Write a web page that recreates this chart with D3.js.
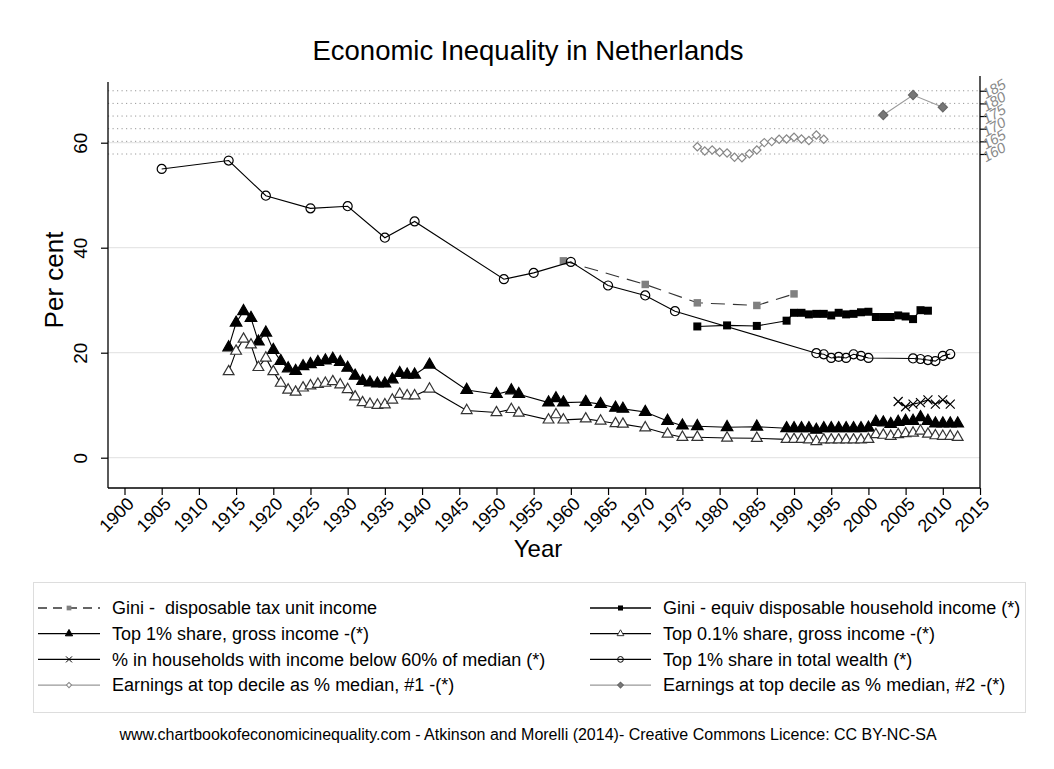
<!DOCTYPE html>
<html>
<head>
<meta charset="utf-8">
<script src="https://cdn.jsdelivr.net/npm/d3@7"></script>
<style>
	html, body { margin: 0; padding: 0; background: #fff; }
	svg { display: block; font-family: "Liberation Sans", Arial, sans-serif; }
	svg text { white-space: pre; }
</style>
</head>
<body>
<svg id="chart" width="1054" height="769"></svg>
<script>

const gini_tax_years = [1959, 1970, 1977, 1985, 1990];
const gini_tax_values = [37.5, 33.0, 29.5, 29.0, 31.2];

const gini_equiv_years = [1977, 1981, 1985, 1989, 1990, 1991, 1992, 1993, 1994, 1995, 1996, 1997, 1998, 1999,
	2000, 2001, 2002, 2003, 2004, 2005, 2006, 2007, 2008];
const gini_equiv_values = [25.0, 25.2, 25.1, 26.1, 27.6, 27.6, 27.3, 27.4, 27.4, 27.1, 27.6, 27.3, 27.4, 27.7,
	27.8, 26.8, 26.8, 26.8, 27.1, 26.9, 26.4, 28.1, 28.0];

const top_years = [1914, 1915, 1916, 1917, 1918, 1919, 1920, 1921, 1922, 1923, 1924, 1925, 1926, 1927, 1928, 1929,
	1930, 1931, 1932, 1933, 1934, 1935, 1936, 1937, 1938, 1939, 1941, 1946, 1950, 1952, 1953, 1957, 1958, 1959,
	1962, 1964, 1966, 1967, 1970, 1973, 1975, 1977, 1981, 1985, 1989, 1990, 1991, 1992, 1993, 1994, 1995, 1996,
	1997, 1998, 1999, 2000, 2001, 2002, 2003, 2004, 2005, 2006, 2007, 2008, 2009, 2010, 2011, 2012];
const top1_values = [21.0, 25.7, 27.9, 26.6, 22.1, 23.8, 20.5, 18.4, 17.0, 16.5, 17.4, 17.8, 18.2, 18.5, 18.8, 18.2,
	17.1, 15.6, 14.6, 14.3, 14.1, 14.1, 14.9, 16.1, 15.8, 15.8, 17.7, 12.9, 12.1, 12.8, 12.1, 10.5, 11.3, 10.5,
	10.6, 10.2, 9.5, 9.3, 8.7, 7.0, 6.1, 6.0, 5.8, 5.9, 5.6, 5.6, 5.6, 5.6, 5.3, 5.6, 5.6, 5.6,
	5.6, 5.6, 5.6, 5.7, 6.8, 6.7, 6.4, 6.8, 7.0, 7.0, 7.7, 7.0, 6.5, 6.5, 6.5, 6.5];
const top01_values = [16.4, 20.3, 22.6, 21.5, 17.2, 19.0, 16.4, 14.2, 12.9, 12.5, 13.3, 13.7, 14.0, 14.2, 14.5, 13.9,
	13.0, 11.6, 10.5, 10.2, 10.0, 10.1, 11.0, 12.1, 11.8, 11.8, 13.1, 9.0, 8.6, 9.2, 8.5, 7.2, 8.2, 7.2,
	7.4, 7.0, 6.5, 6.4, 5.7, 4.5, 3.9, 3.9, 3.75, 3.7, 3.5, 3.5, 3.5, 3.4, 3.1, 3.4, 3.4, 3.4,
	3.4, 3.4, 3.4, 3.5, 4.4, 4.3, 4.1, 4.4, 4.6, 4.7, 5.1, 4.5, 4.2, 4.1, 4.1, 3.9];

const poverty_years = [2004, 2005, 2006, 2007, 2008, 2009, 2010, 2011];
const poverty_values = [10.7, 9.7, 10.2, 10.5, 11.0, 10.2, 11.0, 10.2];

const wealth_years = [1905, 1914, 1919, 1925, 1930, 1935, 1939, 1951, 1955, 1960, 1965, 1970, 1974, 1993, 1994,
	1995, 1996, 1997, 1998, 1999, 2000, 2006, 2007, 2008, 2009, 2010, 2011];
const wealth_values = [55.0, 56.6, 49.9, 47.5, 47.9, 41.9, 45.0, 34.0, 35.2, 37.3, 32.8, 30.9, 27.9, 19.9, 19.7,
	19.0, 19.2, 19.0, 19.7, 19.4, 19.0, 18.9, 18.8, 18.6, 18.4, 19.4, 19.75];

const earnings1_years = [1977, 1978, 1979, 1980, 1981, 1982, 1983, 1984, 1985, 1986, 1987, 1988, 1989, 1990, 1991,
	1992, 1993, 1994];
const earnings1_values = [162.9, 161.2, 161.6, 160.7, 160.4, 158.7, 158.5, 160.1, 161.6, 164.5, 164.9, 165.8, 165.9,
	166.6, 165.9, 165.3, 167.5, 165.8];

const earnings2_years = [2002, 2006, 2010];
const earnings2_values = [175.4, 183.3, 178.5];

const x_ticks = d3.range(1900, 2016, 5);
const y_ticks = [0, 20, 40, 60];
const y_right_ticks = [160, 165, 170, 175, 180, 185];

const legend_labels = [
	'Gini -  disposable tax unit income',
	'Gini - equiv disposable household income (*)',
	'Top 1% share, gross income -(*)',
	'Top 0.1% share, gross income -(*)',
	'% in households with income below 60% of median (*)',
	'Top 1% share in total wealth (*)',
	'Earnings at top decile as % median, #1 -(*)',
	'Earnings at top decile as % median, #2 -(*)'
];

const PLOT_LEFT = 108;
const PLOT_RIGHT = 980;
const PLOT_TOP = 82;
const PLOT_BOTTOM = 488;

const svg = d3.select('#chart');

const x = d3.scaleLinear().domain([1900, 2015]).range([124.5, 980]);
const y = d3.scaleLinear().domain([0, 60]).range([457.7, 142.7]);
const y_right = d3.scaleLinear().domain([160, 185]).range([154, 90.75]);

const zip = (xs, ys) => xs.map((v, i) => ({x: v, y: ys[i]}));

const marker_x = (s) => {
	const p = d3.path();
	p.moveTo(-s, -s); p.lineTo(s, s);
	p.moveTo(-s, s); p.lineTo(s, -s);
	return p.toString();
};

const series = [
	{data: zip(gini_tax_years, gini_tax_values), scale: y, line: '#333', dash: '14,8',
		symbol: d3.symbolSquare, size: 56, fill: '#808080', stroke: 'none'},
	{data: zip(gini_equiv_years, gini_equiv_values), scale: y, line: '#000',
		symbol: d3.symbolSquare, size: 64, fill: '#000', stroke: 'none'},
	{data: zip(top_years, top1_values), scale: y, line: '#000',
		symbol: d3.symbolTriangle, size: 58, fill: '#000', stroke: '#000'},
	{data: zip(top_years, top01_values), scale: y, line: '#000',
		symbol: d3.symbolTriangle, size: 50, fill: '#fff', stroke: '#333'},
	{data: zip(poverty_years, poverty_values), scale: y, line: '#000',
		cross: true, fill: 'none', stroke: '#000'},
	{data: zip(wealth_years, wealth_values), scale: y, line: '#000',
		symbol: d3.symbolCircle, size: 64, fill: 'none', stroke: '#000'},
	{data: zip(earnings1_years, earnings1_values), scale: y_right, line: '#999',
		symbol: d3.symbolSquare, size: 34, rotate: 45, fill: '#fff', stroke: '#888'},
	{data: zip(earnings2_years, earnings2_values), scale: y_right, line: '#999',
		symbol: d3.symbolSquare, size: 42, rotate: 45, fill: '#777', stroke: '#666'}
];

// title
svg.append('text')
	.attr('x', 528)
	.attr('y', 60)
	.attr('text-anchor', 'middle')
	.attr('font-size', 27.5)
	.text('Economic Inequality in Netherlands');

// grid lines
svg.append('g')
	.selectAll('line')
	.data(y_ticks)
	.join('line')
	.attr('x1', PLOT_LEFT)
	.attr('x2', PLOT_RIGHT)
	.attr('y1', d => y(d))
	.attr('y2', d => y(d))
	.attr('stroke', '#e6e6e6')
	.attr('stroke-width', 1.2);

svg.append('g')
	.selectAll('line')
	.data(y_right_ticks)
	.join('line')
	.attr('x1', PLOT_LEFT)
	.attr('x2', PLOT_RIGHT)
	.attr('y1', d => y_right(d))
	.attr('y2', d => y_right(d))
	.attr('stroke', '#999')
	.attr('stroke-width', 1)
	.attr('stroke-dasharray', '1.2,3.3');

// axes
const axis_left = svg.append('g')
	.attr('transform', `translate(${PLOT_LEFT},0)`)
	.call(d3.axisLeft(y).tickValues(y_ticks).tickSize(7).tickSizeOuter(0));
axis_left.select('.domain').attr('d', `M0,${PLOT_TOP}V${PLOT_BOTTOM}`).attr('stroke-width', 1.3);
axis_left.selectAll('text')
	.attr('font-size', 19)
	.attr('fill', '#000')
	.attr('x', 0)
	.attr('y', 0)
	.attr('dy', 0)
	.attr('text-anchor', 'middle')
	.attr('transform', 'translate(-21,0) rotate(-90)');

const axis_right = svg.append('g')
	.attr('transform', `translate(${PLOT_RIGHT},0)`)
	.call(d3.axisRight(y_right).tickValues(y_right_ticks).tickSize(7).tickSizeOuter(0));
axis_right.select('.domain').attr('d', `M0,${PLOT_TOP - 6}V${PLOT_BOTTOM}`).attr('stroke-width', 1.3);
axis_right.selectAll('text')
	.attr('font-size', 14.5)
	.attr('font-style', 'italic')
	.attr('fill', '#888')
	.attr('text-anchor', 'start')
	.attr('x', 0)
	.attr('dy', 0)
	.attr('transform', 'translate(6,8) rotate(-30)');

const axis_bottom = svg.append('g')
	.attr('transform', `translate(0,${PLOT_BOTTOM})`)
	.call(d3.axisBottom(x).tickValues(x_ticks).tickFormat(d3.format('d')).tickSize(7).tickSizeOuter(0));
axis_bottom.select('.domain').attr('d', `M${PLOT_LEFT},0H${PLOT_RIGHT}`).attr('stroke-width', 1.3);
axis_bottom.selectAll('text')
	.attr('font-size', 18)
	.attr('fill', '#000')
	.attr('text-anchor', 'end')
	.attr('dy', 0)
	.attr('y', 0)
	.attr('transform', 'translate(10,17) rotate(-45)');
svg.selectAll('.tick line').attr('stroke', '#000').attr('stroke-width', 1.2);

// axis titles
svg.append('text')
	.attr('transform', 'translate(63,280) rotate(-90)')
	.attr('text-anchor', 'middle')
	.attr('font-size', 26)
	.text('Per cent');

svg.append('text')
	.attr('x', 538)
	.attr('y', 557)
	.attr('text-anchor', 'middle')
	.attr('font-size', 24)
	.text('Year');

// series
const plot = svg.append('g');

series.forEach(s => {
	const line = d3.line().x(d => x(d.x)).y(d => s.scale(d.y));

	plot.append('path')
		.attr('d', line(s.data))
		.attr('fill', 'none')
		.attr('stroke', s.line)
		.attr('stroke-width', 1.1)
		.attr('stroke-dasharray', s.dash || null);

	const marks = plot.append('g')
		.selectAll('path')
		.data(s.data)
		.join('path')
		.attr('transform', d => `translate(${x(d.x)},${s.scale(d.y)}) rotate(${s.rotate || 0})`)
		.attr('fill', s.fill)
		.attr('stroke', s.stroke)
		.attr('stroke-width', 1.2);

	if (s.cross) {
		marks.attr('d', marker_x(4.5));
	}
	else {
		marks.attr('d', d3.symbol(s.symbol, s.size)());
	}
});

// legend
svg.append('rect')
	.attr('x', 33.5)
	.attr('y', 582.5)
	.attr('width', 992)
	.attr('height', 130)
	.attr('fill', 'none')
	.attr('stroke', '#ddd');

const legend = svg.append('g');

series.forEach((s, i) => {
	const col = i % 2;
	const row = Math.floor(i / 2);
	const x0 = col === 0 ? 38 : 590;
	const x1 = col === 0 ? 100 : 651;
	const text_x = col === 0 ? 112 : 663;
	const ly = 608 + row * 25.7;
	const mx = (x0 + x1) / 2;

	legend.append('line')
		.attr('x1', x0)
		.attr('x2', x1)
		.attr('y1', ly)
		.attr('y2', ly)
		.attr('stroke', s.line)
		.attr('stroke-width', 1.3)
		.attr('stroke-dasharray', s.dash ? '9,6' : null);

	const mark = legend.append('path')
		.attr('transform', `translate(${mx},${ly}) rotate(${s.rotate || 0})`)
		.attr('fill', s.fill)
		.attr('stroke', s.stroke)
		.attr('stroke-width', 1);

	if (s.cross) {
		mark.attr('d', marker_x(3));
	}
	else {
		mark.attr('d', d3.symbol(s.symbol, s.size * 0.4)());
	}

	legend.append('text')
		.attr('x', text_x)
		.attr('y', ly)
		.attr('dy', '0.35em')
		.attr('font-size', 18)
		.text(legend_labels[i]);
});

svg.append('text')
	.attr('x', 528)
	.attr('y', 740)
	.attr('text-anchor', 'middle')
	.attr('font-size', 16)
	.text('www.chartbookofeconomicinequality.com - Atkinson and Morelli (2014)- Creative Commons Licence: CC BY-NC-SA');

</script>
</body>
</html>
